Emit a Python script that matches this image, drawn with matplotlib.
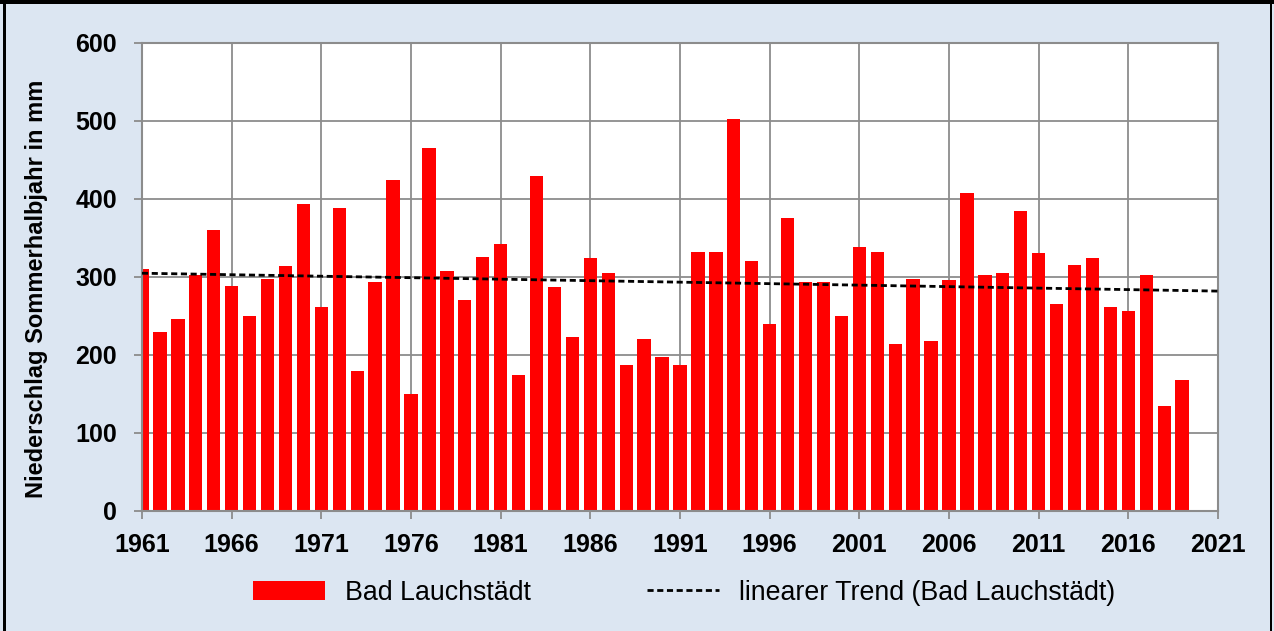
import matplotlib
matplotlib.use("Agg")
import matplotlib.pyplot as plt
import numpy as np
from matplotlib.patches import Rectangle

years = list(range(1961, 2020))
precip = [310, 229, 246, 303, 360, 289, 250, 297, 314, 394,
          262, 388, 179, 294, 424, 150, 466, 308, 271, 326,
          342, 174, 429, 287, 223, 325, 305, 187, 221, 197,
          187, 332, 332, 503, 320, 240, 376, 294, 294, 250,
          338, 332, 214, 298, 218, 296, 408, 302, 305, 385,
          331, 266, 315, 324, 262, 256, 302, 134, 168]
xticks = list(range(1961, 2022, 5))
yticks = [0, 100, 200, 300, 400, 500, 600]
series_label = "Bad Lauchstädt"
trend_label = "linearer Trend (Bad Lauchstädt)"
ylabel = "Niederschlag Sommerhalbjahr in mm"

plt.rcParams['font.family'] = ['Liberation Sans', 'DejaVu Sans']

W, H = 1274, 631
fig = plt.figure(figsize=(W / 100, H / 100), dpi=100)
fig.patch.set_facecolor('#DCE6F2')

ax = fig.add_axes([142 / W, 1 - 511 / H, (1218 - 142) / W, (511 - 43) / H])
ax.set_facecolor('white')

grid_c = '#8C8C8C'
bars = ax.bar(years, precip, width=0.74, color='#FF0000', zorder=2, label=series_label)

coef = np.polyfit(years, precip, 1)
tx = np.array([1961, 2021])
trend, = ax.plot(tx, np.polyval(coef, tx), color='black', lw=2.0,
                 linestyle=(0, (2.2, 1.3)), zorder=3, label=trend_label)

ax.set_xlim(1961, 2021)
ax.set_ylim(0, 600)
ax.set_xticks(xticks)
ax.set_yticks(yticks)
ax.grid(True, color=grid_c, lw=1.3, zorder=0)
ax.set_axisbelow(True)
for s in ax.spines.values():
    s.set_color(grid_c)
    s.set_linewidth(1.5)
ax.tick_params(axis='both', colors=grid_c, length=6, width=1.3, direction='out',
               labelcolor='black', labelsize=18)
ax.tick_params(axis='x', pad=10)
ax.tick_params(axis='y', pad=12)
for lab in ax.get_xticklabels() + ax.get_yticklabels():
    lab.set_fontweight('bold')

fig.text(37 / W, 1 - 289 / H, ylabel, rotation=90, ha='center', va='center',
         fontsize=17, fontweight='bold')

leg = fig.legend(handles=[bars, trend], labels=[series_label, trend_label],
                 loc='center', bbox_to_anchor=(684 / W, 1 - 593 / H), ncol=2,
                 frameon=False, fontsize=19.3, handlelength=2.7, handleheight=0.75,
                 handletextpad=0.75, columnspacing=4.3)

# frame lines
fig.patches.append(Rectangle((0, 1 - 4 / H), 1, 4 / H, transform=fig.transFigure,
                             facecolor='black', edgecolor='none', zorder=10))
fig.patches.append(Rectangle((3 / W, 0), 3 / W, 1, transform=fig.transFigure,
                             facecolor='black', edgecolor='none', zorder=10))
fig.patches.append(Rectangle((1270 / W, 0), 2 / W, 1, transform=fig.transFigure,
                             facecolor='black', edgecolor='none', zorder=10))

fig.savefig('out.png', dpi=100, facecolor=fig.get_facecolor())
